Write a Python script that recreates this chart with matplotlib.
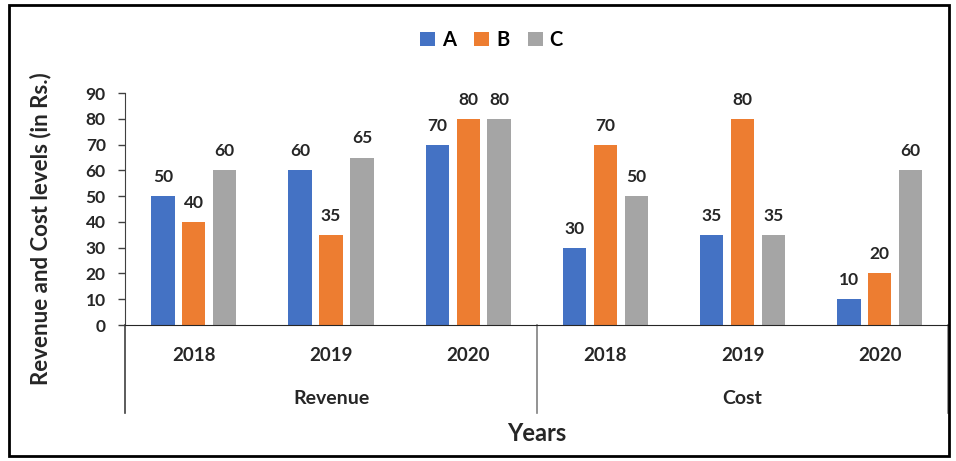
import matplotlib.pyplot as plt
from matplotlib.patches import Rectangle
from matplotlib.transforms import blended_transform_factory
import numpy as np

# data
years = ['2018', '2019', '2020', '2018', '2019', '2020']
sections = ['Revenue', 'Cost']
a_vals = [50, 60, 70, 30, 35, 10]
b_vals = [40, 35, 80, 70, 80, 20]
c_vals = [60, 65, 80, 50, 35, 60]
series = ['A', 'B', 'C']
colors = ['#4472C4', '#ED7D31', '#A5A5A5']

plt.rcParams['font.family'] = ['Lato', 'DejaVu Sans']
plt.rcParams['font.weight'] = 'bold'
txt = '#262626'

fig = plt.figure(figsize=(9.56, 4.61), dpi=100)
ax = fig.add_axes([0.131, 0.295, 0.861, 0.503])

x = np.arange(len(years))
width = 0.17
step = 0.225
for i, (vals, name, col) in enumerate(zip([a_vals, b_vals, c_vals], series, colors)):
    pos = x + (i - 1) * step
    ax.bar(pos, vals, width, color=col, label=name)
    for p, v in zip(pos, vals):
        ax.annotate(str(v), (p, v), xytext=(0, 8), textcoords='offset points',
                    ha='center', va='bottom', fontsize=12.5, fontweight='bold',
                    color=txt)

ax.set_xlim(-0.5, len(years) - 0.5)
ax.set_ylim(0, 90)
ax.set_yticks(range(0, 91, 10))
ax.tick_params(axis='y', labelsize=12.5, length=5, width=1, color='#404040',
               labelcolor=txt, pad=9)
ax.set_xticks([])
for s in ['top', 'right']:
    ax.spines[s].set_visible(False)
ax.spines['left'].set_color('#404040')
ax.spines['bottom'].set_color(txt)

# hierarchical x axis
tr = blended_transform_factory(ax.transData, ax.transAxes)
for xx in x:
    ax.text(xx, -0.13, years[xx], transform=tr, ha='center', va='center',
            fontsize=13.5, fontweight='bold', color=txt)
for k, name in enumerate(sections):
    ax.text(1 + 3 * k, -0.315, name, transform=tr, ha='center', va='center',
            fontsize=14, fontweight='bold', color=txt)
for xx in [-0.5, 2.5, 5.5]:
    ax.plot([xx, xx], [0, -0.38], transform=tr, color='#808080' if xx != -0.5 else '#404040',
            lw=1.2, clip_on=False)

fig.text(0.561, 0.06, 'Years', ha='center', va='center', fontsize=17, fontweight='bold',
         color=txt)
fig.text(0.042, 0.505, 'Revenue and Cost levels (in Rs.)', rotation=90, ha='center',
         va='center', fontsize=16, fontweight='bold', color=txt)

fig.legend(loc='center', bbox_to_anchor=(0.514, 0.913), ncol=3, frameon=False,
           fontsize=14.5, handlelength=0.75, handleheight=0.75, handletextpad=0.35,
           columnspacing=0.9)

fig.patches.append(Rectangle((0.009, 0.011), 0.984, 0.978, transform=fig.transFigure,
                             fill=False, edgecolor='black', lw=2))

fig.savefig('out.png', dpi=100, facecolor='white')
